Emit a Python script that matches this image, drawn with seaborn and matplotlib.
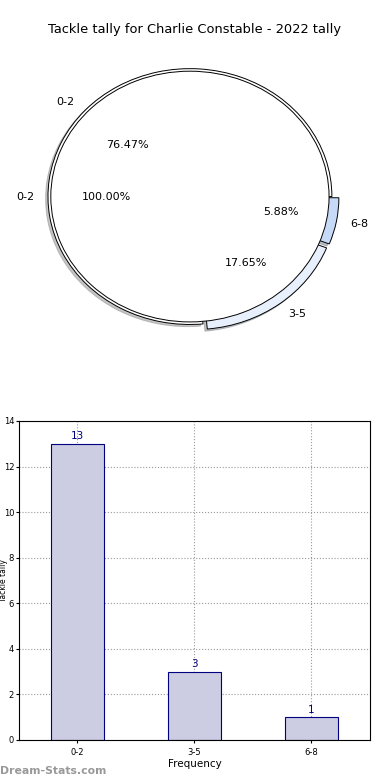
import matplotlib
matplotlib.use("Agg")
import matplotlib.pyplot as plt
import seaborn as sns
import pandas as pd

# dados do gráfico
categorias = ["0-2", "3-5", "6-8"]
contagens = [13, 3, 1]
categorias_interno = ["0-2"]
contagens_interno = [17]
cores_externo = ["#ffffff", "#e9f0fd", "#c6daf8"]
cores_interno = ["#ffffff"]
titulo = "Tackle tally for Charlie Constable - 2022 tally"

sns.set_style("white")
plt.rcParams["font.family"] = ["DejaVu Sans"]
plt.rcParams["text.color"] = "black"
plt.rcParams["xtick.color"] = "black"
plt.rcParams["ytick.color"] = "black"
plt.rcParams["axes.labelcolor"] = "black"

fig = plt.figure(figsize=(3.9, 7.8), dpi=100)

# pizza (anel externo + pizza interna)
ax_pie = fig.add_axes([0.032, 0.543, 0.91, 0.41])
ax_pie.pie(contagens, labels=categorias, colors=cores_externo, explode=[0, 0.05, 0.05],
           autopct="%.2f%%", pctdistance=0.6, labeldistance=1.1,
           shadow=dict(ox=-0.012, oy=-0.012, shade=0.45),
           radius=1.0, wedgeprops=dict(edgecolor="black", linewidth=0.7),
           textprops=dict(fontsize=8, color="black"))
ax_pie.pie(contagens_interno, labels=categorias_interno, colors=cores_interno,
           autopct="%.2f%%", pctdistance=0.6, labeldistance=1.12, shadow=False,
           radius=0.98, wedgeprops=dict(edgecolor="black", linewidth=0.7),
           textprops=dict(fontsize=8, color="black"))
ax_pie.set_aspect("auto")
ax_pie.set_xlim(-1.25, 1.25)
ax_pie.set_ylim(-1.25, 1.25)
fig.text(0.5, 1 - 30 / 780, titulo, ha="center", va="center", fontsize=9.4)

# barras
df = pd.DataFrame({"categoria": categorias, "contagem": contagens})
ax_bar = fig.add_axes([0.0487, 0.0513, 0.9, 0.409])
sns.barplot(data=df, x="categoria", y="contagem", ax=ax_bar, color="#ccccE3",
            saturation=1, edgecolor="#000080", linewidth=0.8, width=0.45)
for i, v in enumerate(contagens):
    ax_bar.text(i, v + 0.1, str(v), ha="center", va="bottom", fontsize=7.5, color="#000080")
ax_bar.set_xlim(-0.5, 2.5)
ax_bar.set_ylim(0, 14)
ax_bar.set_yticks(range(0, 15, 2))
ax_bar.tick_params(labelsize=6, length=2, left=True, bottom=True)
ax_bar.tick_params(axis="y", pad=1.5)
ax_bar.grid(True, linestyle=":", color="#999999", linewidth=0.8)
ax_bar.set_axisbelow(True)
ax_bar.set_xlabel("Frequency", fontsize=7.5, labelpad=2)
ax_bar.set_ylabel("Tackle tally", fontsize=5.5, va="center")
ax_bar.yaxis.set_label_coords(-0.043, 0.5)
for s in ax_bar.spines.values():
    s.set_color("black")
    s.set_linewidth(0.8)

fig.text(0.0, 0.012, "Dream-Stats.com", fontsize=7.8, color="#999999",
         fontweight="bold", ha="left", va="center")

fig.savefig("out.png", dpi=100)
